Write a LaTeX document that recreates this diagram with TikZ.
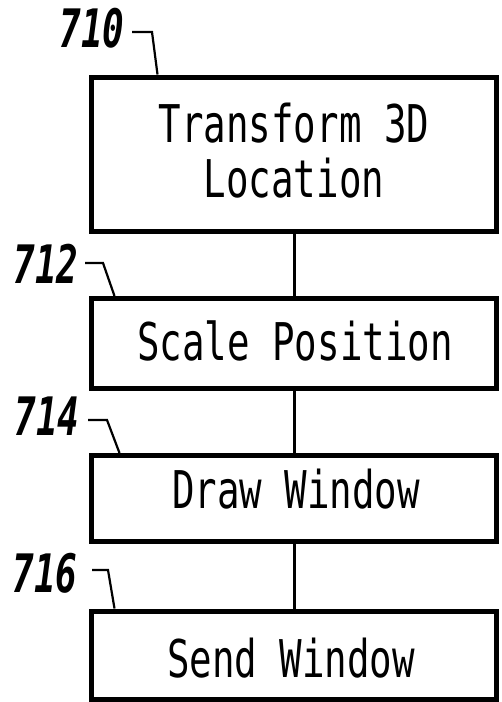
\documentclass[tikz,border=0pt]{standalone}
\usepackage{fontspec}
\newfontfamily\boxfont[FakeStretch=0.72]{DejaVu Sans Mono}
\newfontfamily\numfont[FakeStretch=0.68]{DejaVu Sans Mono}
\usetikzlibrary{calc}
\tikzset{
  stepbox/.style={draw, line width=5pt, rectangle, inner sep=0pt, minimum width=405pt},
  boxtext/.style={font=\boxfont\fontsize{52}{55}\selectfont, inner sep=0pt, align=center},
  reflabel/.style={font=\numfont\bfseries\itshape\fontsize{53}{55}\selectfont, inner sep=0pt, anchor=base},
  link/.style={line width=3pt},
  leader/.style={line width=2.2pt}
}
\begin{document}
\begin{tikzpicture}[x=1pt,y=-1pt]
\useasboundingbox (0,0) rectangle (502,702);
% boxes
\node[stepbox, minimum height=154pt] (b1) at (294,154) {};
\node[stepbox, minimum height=89.5pt] (b2) at (294,343.25) {};
\node[stepbox, minimum height=85.5pt] (b3) at (294,498.25) {};
\node[stepbox, minimum height=88.5pt] (b4) at (294,655.25) {};
% texts
\node[boxtext, anchor=center] (t1) at (294,151) {Transform 3D\\Location};
\node[boxtext, anchor=base] (t2) at (295,360) {Scale Position};
\node[boxtext, anchor=base] (t3) at (296,508) {Draw Window};
\node[boxtext, anchor=base] (t4) at (291,677) {Send Window};
% connectors
\draw[link] (b1.south) -- (b2.north);
\draw[link] (b2.north |- b2.south) -- (b3.north);
\draw[link] (b3.south) -- (b4.north);
% reference labels
\node[reflabel] (l710) at (92,47) {710};
\node[reflabel] (l712) at (46,283) {712};
\node[reflabel] (l714) at (47,435) {714};
\node[reflabel] (l716) at (45,592) {716};
% leaders
\coordinate (s710) at (132,32);
\coordinate (e710) at ($(b1.north west)+(68.5,0)$);
\draw[leader] (s710) -- (152,32) -- (e710);
\coordinate (s712) at (85,263);
\coordinate (e712) at ($(b2.north west)+(25.5,0)$);
\draw[leader] (s712) -- (103,263) -- (e712);
\coordinate (s714) at (88,420);
\coordinate (e714) at ($(b3.north west)+(30.5,0)$);
\draw[leader] (s714) -- (107,420) -- (e714);
\coordinate (s716) at (92,570);
\coordinate (e716) at ($(b4.north west)+(25.5,0)$);
\draw[leader] (s716) -- (108,570) -- (e716);
\end{tikzpicture}
\end{document}
